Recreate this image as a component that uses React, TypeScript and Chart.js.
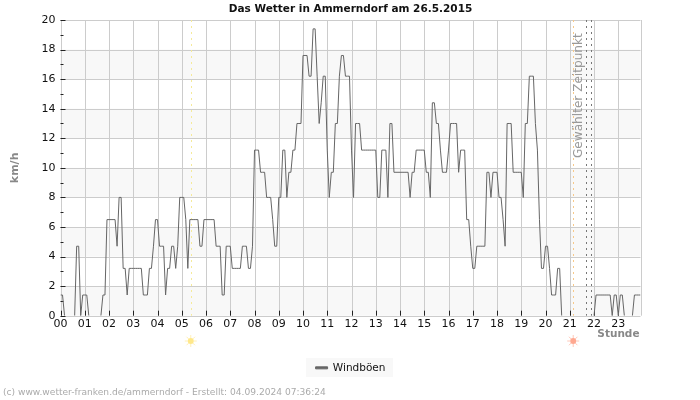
import React, { useEffect, useRef } from "react";
import { Chart, registerables } from "chart.js";

Chart.register(...registerables);

const FONT = "'DejaVu Sans', sans-serif";

const hourLabels = ["00","01","02","03","04","05","06","07","08","09","10","11","12","13","14","15","16","17","18","19","20","21","22","23"];

// Windböen in km/h, one value every 5 minutes, 12 per row
const gusts = [
  1.4,1.4,0,0,0,0,0,0,4.7,4.7,0,1.4,
  1.4,1.4,0,0,0,0,0,0,0,1.4,1.4,6.5,
  6.5,6.5,6.5,6.5,4.7,8,8,3.2,3.2,1.4,3.2,3.2,
  3.2,3.2,3.2,3.2,3.2,1.4,1.4,1.4,3.2,3.2,4.7,6.5,
  6.5,4.7,4.7,4.7,1.4,3.2,3.2,4.7,4.7,3.2,4.7,8,
  8,8,6.5,3.2,6.5,6.5,6.5,6.5,6.5,4.7,4.7,6.5,
  6.5,6.5,6.5,6.5,6.5,4.7,4.7,4.7,1.4,1.4,4.7,4.7,
  4.7,3.2,3.2,3.2,3.2,3.2,4.7,4.7,4.7,3.2,3.2,4.7,
  11.2,11.2,11.2,9.7,9.7,9.7,8,8,8,6.5,4.7,4.7,
  8,8,11.2,11.2,8,9.7,9.7,11.2,11.2,13,13,13,
  17.6,17.6,17.6,16.2,16.2,19.4,19.4,16.2,13,14.4,16.2,16.2,
  11.2,8,9.7,9.7,13,13,16.2,17.6,17.6,16.2,16.2,16.2,
  11.2,8,13,13,13,11.2,11.2,11.2,11.2,11.2,11.2,11.2,
  11.2,8,8,11.2,11.2,11.2,8,13,13,9.7,9.7,9.7,
  9.7,9.7,9.7,9.7,9.7,8,9.7,9.7,11.2,11.2,11.2,11.2,
  11.2,9.7,9.7,8,14.4,14.4,13,13,11.2,9.7,9.7,9.7,
  11.2,13,13,13,13,9.7,11.2,11.2,11.2,6.5,6.5,4.7,
  3.2,3.2,4.7,4.7,4.7,4.7,4.7,9.7,9.7,8,9.7,9.7,
  9.7,8,8,6.5,4.7,13,13,13,9.7,9.7,9.7,9.7,
  9.7,8,13,13,16.2,16.2,16.2,13,11.2,6.5,3.2,3.2,
  4.7,4.7,3.2,1.4,1.4,1.4,3.2,3.2,0,0,0,0,
  0,0,0,0,0,0,0,0,0,0,0,0,
  0,1.4,1.4,1.4,1.4,1.4,1.4,1.4,1.4,0,1.4,1.4,
  0,1.4,1.4,0,0,0,0,0,1.4,1.4,1.4,1.4,
];
const sampleIndex = gusts.map((_, i) => i);

const bandRanges = [[0, 2], [4, 6], [8, 10], [12, 14], [16, 18]];
const sunriseAt = 64.7;
const sunsetAt = 253.7;
const selectedFrom = 260;
const selectedTo = 262.7;

function sun(ctx: CanvasRenderingContext2D, x: number, y: number, color: string, glow: string) {
  ctx.save();
  ctx.translate(x, y);
  ctx.strokeStyle = glow;
  ctx.lineWidth = 1;
  for (let k = 0; k < 8; k++) {
    const a = (k * Math.PI) / 4;
    ctx.beginPath();
    ctx.moveTo(Math.cos(a) * 3, Math.sin(a) * 3);
    ctx.lineTo(Math.cos(a) * 6, Math.sin(a) * 6);
    ctx.stroke();
  }
  ctx.fillStyle = color;
  ctx.beginPath();
  ctx.arc(0, 0, 3, 0, Math.PI * 2);
  ctx.fill();
  ctx.restore();
}

const decorations = {
  id: "decorations",
  beforeDatasetsDraw(chart: any) {
    const { ctx, chartArea: a, scales } = chart;
    ctx.save();
    ctx.fillStyle = "#f8f8f8";
    for (const [lo, hi] of bandRanges) {
      const yTop = scales.y.getPixelForValue(hi);
      const yBot = scales.y.getPixelForValue(lo);
      ctx.fillRect(a.left, yTop, a.right - a.left, yBot - yTop);
    }
    ctx.strokeStyle = "#cccccc";
    ctx.lineWidth = 1;
    const gridX = hourLabels.map((_, i) => Math.round(scales.x.getPixelForValue(i * 12)) + 0.5);
    ctx.beginPath();
    for (const px of gridX) { ctx.moveTo(px, a.top); ctx.lineTo(px, a.bottom); }
    for (let v = 0; v <= 20; v += 2) {
      const py = Math.round(scales.y.getPixelForValue(v)) + 0.5;
      ctx.moveTo(a.left, py); ctx.lineTo(a.right, py);
    }
    ctx.moveTo(Math.round(a.right) + 0.5, a.top); ctx.lineTo(Math.round(a.right) + 0.5, a.bottom);
    ctx.stroke();

    // inward black ticks
    ctx.strokeStyle = "#222222";
    ctx.beginPath();
    for (const px of gridX) { ctx.moveTo(px, a.bottom); ctx.lineTo(px, a.bottom - 5); }
    for (let v = 0; v <= 20; v += 1) {
      const py = Math.round(scales.y.getPixelForValue(v)) + 0.5;
      ctx.moveTo(a.left, py); ctx.lineTo(a.left + (v % 2 === 0 ? 5 : 3), py);
    }
    ctx.stroke();

    // dotted markers
    ctx.lineWidth = 1;
    ctx.setLineDash([2, 4]);
    const vline = (value: number, color: string) => {
      const px = Math.round(scales.x.getPixelForValue(value)) + 0.5;
      ctx.strokeStyle = color;
      ctx.beginPath();
      ctx.moveTo(px, a.top);
      ctx.lineTo(px, a.bottom);
      ctx.stroke();
    };
    vline(sunriseAt, "#f5ea9a");
    vline(sunsetAt, "#f7c98a");
    vline(selectedFrom, "#777777");
    vline(selectedTo, "#777777");
    ctx.setLineDash([]);

    // selected time label
    ctx.save();
    ctx.translate(scales.x.getPixelForValue(sunsetAt) + 6, 158);
    ctx.rotate(-Math.PI / 2);
    ctx.fillStyle = "#999999";
    ctx.font = `12.1px ${FONT}`;
    ctx.textAlign = "left";
    ctx.textBaseline = "middle";
    ctx.fillText("Gewählter Zeitpunkt", 0, 0);
    ctx.restore();
    ctx.restore();
  },
  beforeDraw(chart: any) {
    const { ctx } = chart;
    ctx.save();
    ctx.fillStyle = "#ffffff";
    ctx.fillRect(0, 0, 700, 400);
    ctx.fillStyle = "#f8f8f8";
    ctx.fillRect(306, 358, 87, 19);
    ctx.restore();
  },
  afterDraw(chart: any) {
    const { ctx, scales } = chart;
    ctx.save();
    sun(ctx, scales.x.getPixelForValue(sunriseAt) - 0.5, 341, "#ffe88a", "#fff0b8");
    sun(ctx, scales.x.getPixelForValue(sunsetAt), 341, "#ffa890", "#ffc8b8");
    ctx.fillStyle = "#888888";
    ctx.font = `bold 10.5px ${FONT}`;
    ctx.textAlign = "right";
    ctx.textBaseline = "middle";
    ctx.fillText("Stunde", 639.5, 334);
    ctx.fillStyle = "#aaaaaa";
    ctx.font = `9.1px ${FONT}`;
    ctx.textAlign = "left";
    ctx.fillText("(c) www.wetter-franken.de/ammerndorf - Erstellt: 04.09.2024 07:36:24", 3, 393);
    ctx.restore();
  },
};

export default function App() {
  const ref = useRef<HTMLCanvasElement>(null);
  useEffect(() => {
    const chart = new Chart(ref.current as HTMLCanvasElement, {
      type: "line",
      data: {
        labels: sampleIndex,
        datasets: [
          {
            label: "Windböen",
            data: sampleIndex.map((i) => ({ x: i, y: gusts[i] })),
            borderColor: "#666666",
            backgroundColor: "#666666",
            borderWidth: 1,
            pointRadius: 0,
            tension: 0,
            fill: false,
            segment: {
              borderColor: (c: any) => (c.p0.parsed.y === 0 && c.p1.parsed.y === 0 ? "rgba(0,0,0,0)" : undefined),
            },
          },
        ],
      },
      options: {
        responsive: false,
        animation: false,
        devicePixelRatio: 1,
        layout: { padding: { top: 0, left: 0, right: 59.5, bottom: 16.9 } },
        plugins: {
          tooltip: { enabled: false },
          title: {
            display: true,
            fullSize: false,
            text: "Das Wetter in Ammerndorf am 26.5.2015",
            color: "#111111",
            font: { family: FONT, size: 10.5, weight: "bold", lineHeight: 1.2 },
            padding: { top: 3, bottom: 4.4 },
          },
          legend: {
            display: true,
            fullSize: false,
            position: "bottom",
            labels: {
              color: "#111111",
              font: { family: FONT, size: 10.5, lineHeight: 1.2 },
              padding: 4,
              boxWidth: 12,
              boxHeight: 2,
              usePointStyle: false,
            },
          },
        },
        scales: {
          x: {
            type: "linear",
            min: 0,
            max: 287,
            grid: { display: false, drawTicks: false },
            border: { display: false },
            afterFit: (s: any) => { s.height = 42.9; },
            afterBuildTicks: (s: any) => { s.ticks = hourLabels.map((_, i) => ({ value: i * 12 })); },
            ticks: {
              color: "#111111",
              font: { family: FONT, size: 11 },
              padding: 2,
              maxRotation: 0,
              autoSkip: false,
              callback: (v: any) => hourLabels[Number(v) / 12],
            },
          },
          y: {
            min: 0,
            max: 20,
            grid: { display: false, drawTicks: false },
            border: { display: false },
            afterFit: (s: any) => { s.width = 60.5; },
            title: {
              display: true,
              text: "km/h",
              color: "#888888",
              font: { family: FONT, size: 11, weight: "bold", lineHeight: 1.2 },
              padding: { top: 9, bottom: 0 },
            },
            ticks: {
              color: "#111111",
              font: { family: FONT, size: 11 },
              stepSize: 2,
              padding: 5,
            },
          },
        },
      },
      plugins: [decorations],
    } as any);
    return () => chart.destroy();
  }, []);
  return (
    <div style={{ position: "absolute", left: 0, top: 0, width: 700, height: 400 }}>
      <canvas ref={ref} width={700} height={400} style={{ display: "block" }} />
    </div>
  );
}
